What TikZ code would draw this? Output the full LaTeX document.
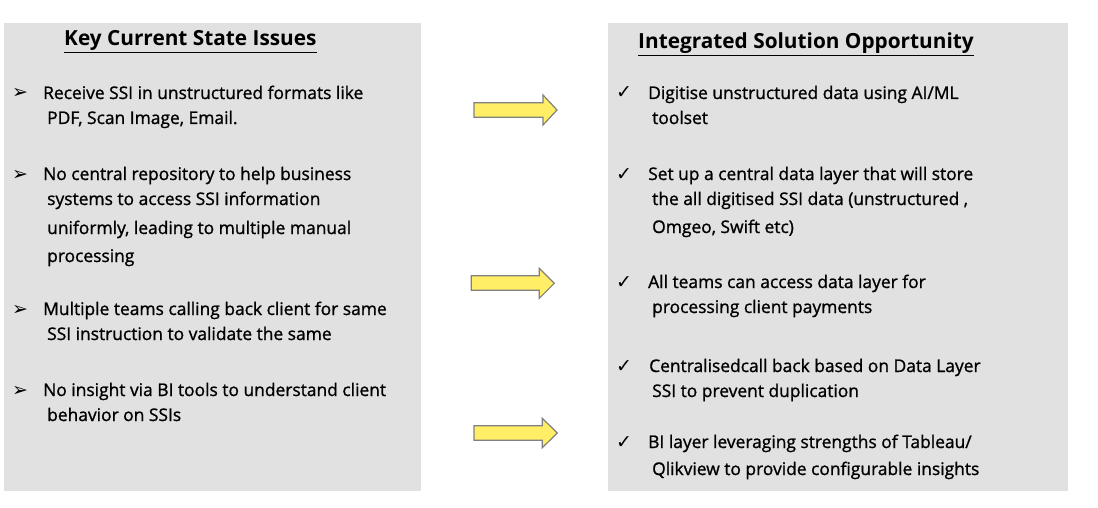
\documentclass[tikz,border=0pt]{standalone}
\usepackage{fontspec}
\setmainfont{Open Sans}
\newfontfamily\bodyfont{Open Sans}[FakeBold=1.1]
\newfontfamily\symfont{DejaVu Sans}
\definecolor{boxgray}{HTML}{E1E1E1}
\definecolor{arrowfill}{HTML}{FFEE66}
\definecolor{arrowline}{HTML}{808080}
\begin{document}
\begin{tikzpicture}[x=1pt,y=-1pt,
  panel/.style={fill=boxgray,draw=none},
  fatarrow/.style={fill=arrowfill,draw=arrowline,line width=1.2pt,line join=miter},
  txt/.style={anchor=base west,inner sep=0pt,font=\bodyfont\fontsize{17.4}{19}\selectfont},
  head/.style={anchor=base west,inner sep=0pt,font=\fontsize{20.8}{22}\selectfont\bfseries},
  bul/.style={anchor=base west,inner sep=0pt,font=\symfont\fontsize{19}{21}\selectfont}]
\useasboundingbox (0,0) rectangle (1098,508);
\fill[white] (0,0) rectangle (1098,508);
% panels
\path[panel] (4,23) rectangle (421,491);
\path[panel] (608,23) rectangle (1068,491);
% titles
\node[head] (t1) at (64,46) {\underline{Key Current State Issues}};
\node[head] (t2) at (638,49) {\underline{Integrated Solution Opportunity}};
% left bullets
\node[bul] (lb1) at (12,99) {➢};
\node[txt] (l1a) at (43,99) {Receive SSI in unstructured formats like};
\node[txt] (l1b) at (47,124) {PDF, Scan Image, Email.};
\node[bul] (lb2) at (12,180) {➢};
\node[txt] (l2a) at (43,180) {No central repository to help business};
\node[txt] (l2b) at (47,205) {systems to access SSI information};
\node[txt] (l2c) at (47,234) {uniformly, leading to multiple manual};
\node[txt] (l2d) at (47,262) {processing};
\node[bul] (lb3) at (12,315) {➢};
\node[txt] (l3a) at (43,315) {Multiple teams calling back client for same};
\node[txt] (l3b) at (47,340) {SSI instruction to validate the same};
\node[bul] (lb4) at (12,396) {➢};
\node[txt] (l4a) at (43,396) {No insight via BI tools to understand client};
\node[txt] (l4b) at (47,421) {behavior on SSIs};
% right bullets
\node[bul] (rb1) at (616,99) {✓};
\node[txt] (r1a) at (648,99) {Digitise unstructured data using AI/ML};
\node[txt] (r1b) at (652,124) {toolset};
\node[bul] (rb2) at (616,180) {✓};
\node[txt] (r2a) at (648,180) {Set up a central data layer that will store};
\node[txt] (r2b) at (652,205) {the all digitised SSI data (unstructured ,};
\node[txt] (r2c) at (652,233) {Omgeo, Swift etc)};
\node[bul] (rb3) at (616,288) {✓};
\node[txt] (r3a) at (648,288) {All teams can access data layer for};
\node[txt] (r3b) at (652,313) {processing client payments};
\node[bul] (rb4) at (616,372) {✓};
\node[txt] (r4a) at (649,372) {Centralisedcall back based on Data Layer};
\node[txt] (r4b) at (652,397) {SSI to prevent duplication};
\node[bul] (rb5) at (616,448) {✓};
\node[txt] (r5a) at (648,448) {BI layer leveraging strengths of Tableau/};
\node[txt] (r5b) at (652,475) {Qlikview to provide configurable insights};
% arrows
\draw[fatarrow] (474,102.7) -- (543,102.7) -- (543,95) -- (557,110) -- (543,125) -- (543,117.3) -- (474,117.3) -- cycle;
\draw[fatarrow] (471.3,275.7) -- (539.3,275.7) -- (539.3,268.3) -- (554.3,283.3) -- (539.3,298.3) -- (539.3,290.3) -- (471.3,290.3) -- cycle;
\draw[fatarrow] (474,425.7) -- (542.3,425.7) -- (542.3,418.3) -- (557.3,433) -- (542.3,447.7) -- (542.3,440.3) -- (474,440.3) -- cycle;
\end{tikzpicture}
\end{document}
